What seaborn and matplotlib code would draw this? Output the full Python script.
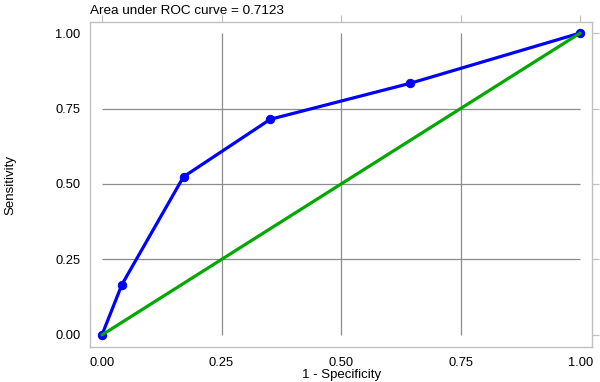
import matplotlib
matplotlib.use("Agg")
import matplotlib.pyplot as plt
import seaborn as sns
import pandas as pd

# ROC points
fpr = [0.0, 0.0417, 0.1705, 0.352, 0.644, 1.0]
tpr = [0.0, 0.1667, 0.5238, 0.7143, 0.8333, 1.0]
ref_x = [0.0, 1.0]
ref_y = [0.0, 1.0]
ticks = [0.0, 0.25, 0.5, 0.75, 1.0]
tick_labels = ["0.00", "0.25", "0.50", "0.75", "1.00"]
auc_text = "Area under ROC curve = 0.7123"

sns.set_theme(style="white")
plt.rcParams['font.family'] = ['Liberation Sans', 'DejaVu Sans']

fig = plt.figure(figsize=(6, 3.82), dpi=100)
ax = fig.add_axes([0.15, 0.0916, 0.837, 0.8504])

grid_c = "#8c8c8c"
frame_c = "#c0c0c0"
ax.vlines(ticks[1:-1], 0, 1, color=grid_c, linewidth=0.9, zorder=1)
ax.hlines(ticks[1:-1], 0, 1, color=grid_c, linewidth=0.9, zorder=1)

df = pd.DataFrame({"fpr": fpr, "tpr": tpr})
sns.lineplot(data=df, x="fpr", y="tpr", ax=ax, color="#0000ff", linewidth=2.3,
             marker="o", markersize=6, markeredgecolor="#0000ff", sort=False, zorder=3)
sns.lineplot(x=ref_x, y=ref_y, ax=ax, color="#00a800", linewidth=2.3, zorder=4)

ax.set_xlim(-0.025, 1.025)
ax.set_ylim(-0.04, 1.036)
ax.set_xticks(ticks)
ax.set_xticklabels(tick_labels)
ax.set_yticks(ticks)
ax.set_yticklabels(tick_labels)
ax.tick_params(axis="both", which="both", direction="out", length=5, width=0.9,
               color=frame_c, labelsize=9.3, labelcolor="black",
               top=True, right=True, labeltop=False, labelright=False, pad=2)
for s in ax.spines.values():
    s.set_color(frame_c)
    s.set_linewidth(1.0)

ax.set_xlabel("1 - Specificity", fontsize=9.5, labelpad=0, color="black")
ax.set_ylabel("Sensitivity", fontsize=9.5, labelpad=28, color="black")
ax.set_title(auc_text, fontsize=9.7, loc="left", pad=6, x=0.0, color="black")

plt.savefig("out.png", dpi=100)
plt.close()
